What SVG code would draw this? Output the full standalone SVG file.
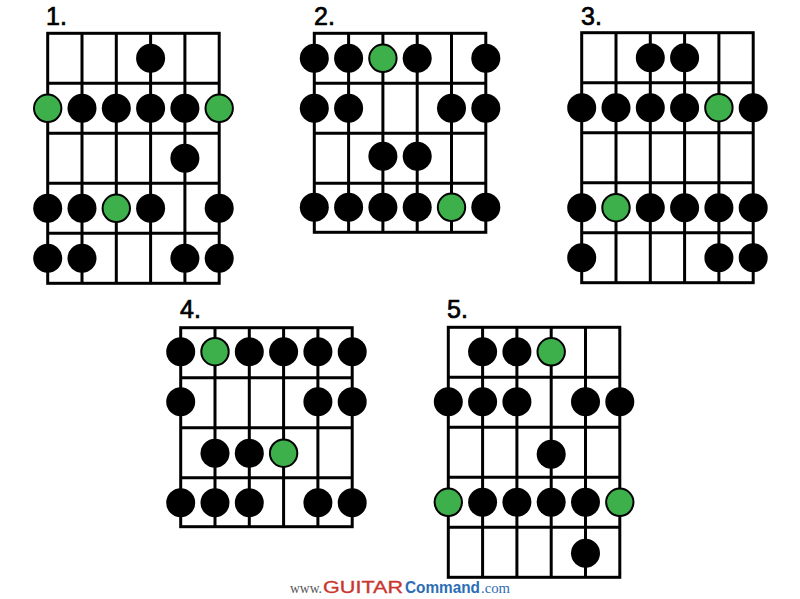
<svg xmlns="http://www.w3.org/2000/svg" xmlns:xlink="http://www.w3.org/1999/xlink" width="800" height="599" viewBox="0 0 800 599">
<style>
.grid{fill:none;stroke:#000;stroke-width:3}
.b{fill:#000}
.g{fill:#3db04b;stroke:#000;stroke-width:2}
.lbl{font-family:"Liberation Sans",Arial,sans-serif;font-size:25px;fill:#000;stroke:#000;stroke-width:0.7}
</style>
<defs>
<g id="grid5">
<rect class="grid" x="0" y="0" width="171.5" height="250"/>
<path class="grid" d="M34.3 0V250M68.6 0V250M102.9 0V250M137.2 0V250M0 50H171.5M0 100H171.5M0 150H171.5M0 200H171.5"/>
</g>
<g id="grid4">
<rect class="grid" x="0" y="0" width="171.5" height="199"/>
<path class="grid" d="M34.3 0V199M68.6 0V199M102.9 0V199M137.2 0V199M0 50H171.5M0 100H171.5M0 150H171.5"/>
</g>
</defs>
<rect width="800" height="599" fill="#fff"/>

<g id="diagram1">
<text class="lbl" x="46" y="25">1.</text>
<g transform="translate(47.7,33.3)">
<use xlink:href="#grid5"/>
<circle class="b" cx="102.9" cy="25" r="14.5"/>
<circle class="g" cx="0" cy="75" r="13.7"/>
<circle class="b" cx="34.3" cy="75" r="14.5"/>
<circle class="b" cx="68.6" cy="75" r="14.5"/>
<circle class="b" cx="102.9" cy="75" r="14.5"/>
<circle class="b" cx="137.2" cy="75" r="14.5"/>
<circle class="g" cx="171.5" cy="75" r="13.7"/>
<circle class="b" cx="137.2" cy="125" r="14.5"/>
<circle class="b" cx="0" cy="175" r="14.5"/>
<circle class="b" cx="34.3" cy="175" r="14.5"/>
<circle class="g" cx="68.6" cy="175" r="13.7"/>
<circle class="b" cx="102.9" cy="175" r="14.5"/>
<circle class="b" cx="171.5" cy="175" r="14.5"/>
<circle class="b" cx="0" cy="225" r="14.5"/>
<circle class="b" cx="34.3" cy="225" r="14.5"/>
<circle class="b" cx="137.2" cy="225" r="14.5"/>
<circle class="b" cx="171.5" cy="225" r="14.5"/>
</g>
</g>

<g id="diagram2">
<text class="lbl" x="314" y="25">2.</text>
<g transform="translate(314.3,33.3)">
<use xlink:href="#grid4"/>
<circle class="b" cx="0" cy="25" r="14.5"/>
<circle class="b" cx="34.3" cy="25" r="14.5"/>
<circle class="g" cx="68.6" cy="25" r="13.7"/>
<circle class="b" cx="102.9" cy="25" r="14.5"/>
<circle class="b" cx="171.5" cy="25" r="14.5"/>
<circle class="b" cx="0" cy="75" r="14.5"/>
<circle class="b" cx="34.3" cy="75" r="14.5"/>
<circle class="b" cx="137.2" cy="75" r="14.5"/>
<circle class="b" cx="171.5" cy="75" r="14.5"/>
<circle class="b" cx="68.6" cy="123" r="14.5"/>
<circle class="b" cx="102.9" cy="123" r="14.5"/>
<circle class="b" cx="0" cy="174" r="14.5"/>
<circle class="b" cx="34.3" cy="174" r="14.5"/>
<circle class="b" cx="68.6" cy="174" r="14.5"/>
<circle class="b" cx="102.9" cy="174" r="14.5"/>
<circle class="g" cx="137.2" cy="174" r="13.7"/>
<circle class="b" cx="171.5" cy="174" r="14.5"/>
</g>
</g>

<g id="diagram3">
<text class="lbl" x="581" y="25">3.</text>
<g transform="translate(581.7,32.7)">
<use xlink:href="#grid5"/>
<circle class="b" cx="68.6" cy="25" r="14.5"/>
<circle class="b" cx="102.9" cy="25" r="14.5"/>
<circle class="b" cx="0" cy="75" r="14.5"/>
<circle class="b" cx="34.3" cy="75" r="14.5"/>
<circle class="b" cx="68.6" cy="75" r="14.5"/>
<circle class="b" cx="102.9" cy="75" r="14.5"/>
<circle class="g" cx="137.2" cy="75" r="13.7"/>
<circle class="b" cx="171.5" cy="75" r="14.5"/>
<circle class="b" cx="0" cy="175" r="14.5"/>
<circle class="g" cx="34.3" cy="175" r="13.7"/>
<circle class="b" cx="68.6" cy="175" r="14.5"/>
<circle class="b" cx="102.9" cy="175" r="14.5"/>
<circle class="b" cx="137.2" cy="175" r="14.5"/>
<circle class="b" cx="171.5" cy="175" r="14.5"/>
<circle class="b" cx="0" cy="225" r="14.5"/>
<circle class="b" cx="137.2" cy="225" r="14.5"/>
<circle class="b" cx="171.5" cy="225" r="14.5"/>
</g>
</g>

<g id="diagram4">
<text class="lbl" x="180" y="318">4.</text>
<g transform="translate(180.7,327.7)">
<use xlink:href="#grid4"/>
<circle class="b" cx="0" cy="24" r="14.5"/>
<circle class="g" cx="34.3" cy="24" r="13.7"/>
<circle class="b" cx="68.6" cy="24" r="14.5"/>
<circle class="b" cx="102.9" cy="24" r="14.5"/>
<circle class="b" cx="137.2" cy="24" r="14.5"/>
<circle class="b" cx="171.5" cy="24" r="14.5"/>
<circle class="b" cx="0" cy="74" r="14.5"/>
<circle class="b" cx="137.2" cy="74" r="14.5"/>
<circle class="b" cx="171.5" cy="74" r="14.5"/>
<circle class="b" cx="34.3" cy="125.5" r="14.5"/>
<circle class="b" cx="68.6" cy="125.5" r="14.5"/>
<circle class="g" cx="102.9" cy="125.5" r="13.7"/>
<circle class="b" cx="0" cy="175" r="14.5"/>
<circle class="b" cx="34.3" cy="175" r="14.5"/>
<circle class="b" cx="68.6" cy="175" r="14.5"/>
<circle class="b" cx="137.2" cy="175" r="14.5"/>
<circle class="b" cx="171.5" cy="175" r="14.5"/>
</g>
</g>

<g id="diagram5">
<text class="lbl" x="447" y="318">5.</text>
<g transform="translate(448.3,327.3)">
<use xlink:href="#grid5"/>
<circle class="b" cx="34.3" cy="24.5" r="14.5"/>
<circle class="b" cx="68.6" cy="24.5" r="14.5"/>
<circle class="g" cx="102.9" cy="24.5" r="13.7"/>
<circle class="b" cx="0" cy="74.5" r="14.5"/>
<circle class="b" cx="34.3" cy="74.5" r="14.5"/>
<circle class="b" cx="68.6" cy="74.5" r="14.5"/>
<circle class="b" cx="137.2" cy="74.5" r="14.5"/>
<circle class="b" cx="171.5" cy="74.5" r="14.5"/>
<circle class="b" cx="102.9" cy="127" r="14.5"/>
<circle class="g" cx="0" cy="175" r="13.7"/>
<circle class="b" cx="34.3" cy="175" r="14.5"/>
<circle class="b" cx="68.6" cy="175" r="14.5"/>
<circle class="b" cx="102.9" cy="175" r="14.5"/>
<circle class="b" cx="137.2" cy="175" r="14.5"/>
<circle class="g" cx="171.5" cy="175" r="13.7"/>
<circle class="b" cx="137.2" cy="226" r="14.5"/>
</g>
</g>

<g id="footer">
<text x="290" y="593" font-family="'Liberation Serif',serif" font-size="15" fill="#555" textLength="32" lengthAdjust="spacingAndGlyphs">www.</text>
<text x="323" y="593" font-family="'Liberation Sans',sans-serif" font-size="16" fill="#c8362e" stroke="#c8362e" stroke-width="0.3" textLength="80" lengthAdjust="spacingAndGlyphs">GUITAR</text>
<text x="405" y="593" font-family="'Liberation Sans',sans-serif" font-weight="bold" font-size="16" fill="#2c6db4" textLength="75" lengthAdjust="spacingAndGlyphs">Command</text>
<text x="481" y="593" font-family="'Liberation Serif',serif" font-size="14" fill="#2c6db4" textLength="29" lengthAdjust="spacingAndGlyphs">.com</text>
</g>
</svg>
